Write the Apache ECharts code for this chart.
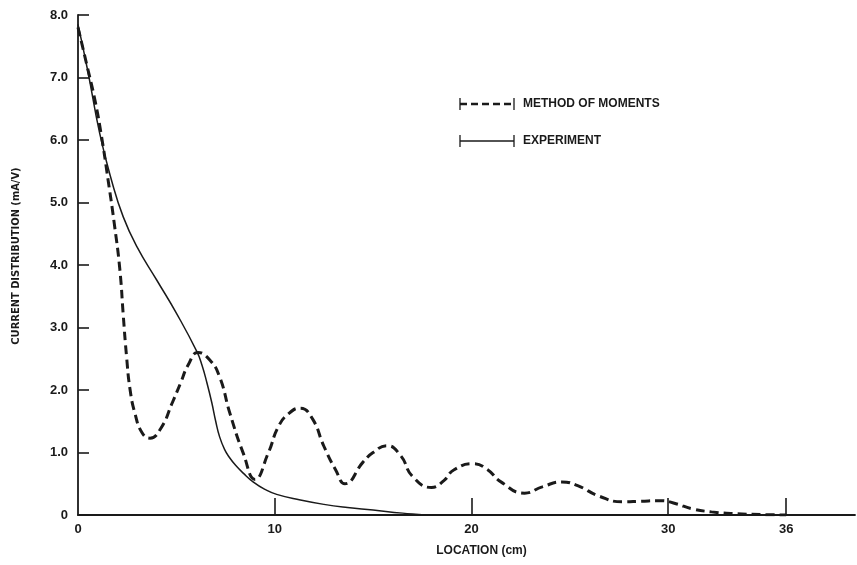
<!DOCTYPE html>
<html>
<head>
<meta charset="utf-8">
<script src="https://cdn.jsdelivr.net/npm/echarts@6/dist/echarts.min.js"></script>
<style>
  html, body { margin: 0; padding: 0; background: #fff; }
  #chart { width: 857px; height: 565px; }
</style>
</head>
<body>
<div id="chart"></div>
<script>
// Current distribution along the strip: method-of-moments solution vs. measurement
const momentsX = [0, 0.45, 0.86, 1.2, 1.53, 1.85, 2.13, 2.3, 2.47, 2.65, 2.9, 3.25, 3.66, 4.2, 4.8, 5.2, 5.6, 6.1, 6.7, 7.2, 7.72, 8.4, 9.0, 9.67, 10.18, 10.7, 11.3, 11.9, 12.5, 13.1, 13.57, 14.5, 15.0, 15.7, 16.4, 17.0, 17.97, 18.6, 19.1, 20.1, 20.8, 21.5, 22.7, 23.6, 24.6, 25.4, 26.5, 27.7, 28.6, 29.6, 30.4, 31.2, 32.2, 33.5, 35.0, 36.0];
const momentsY = [7.8, 7.2, 6.64, 6.05, 5.36, 4.65, 3.92, 3.2, 2.53, 2.0, 1.62, 1.32, 1.23, 1.38, 1.8, 2.1, 2.4, 2.6, 2.48, 2.21, 1.63, 0.99, 0.57, 0.99, 1.41, 1.62, 1.71, 1.55, 1.1, 0.72, 0.5, 0.85, 1.0, 1.11, 0.95, 0.62, 0.44, 0.55, 0.72, 0.82, 0.73, 0.53, 0.35, 0.45, 0.53, 0.47, 0.3, 0.21, 0.22, 0.23, 0.18, 0.1, 0.05, 0.02, 0.005, 0];

const experimentX = [0, 0.5, 1.1, 1.7, 2.3, 3.0, 4.0, 5.0, 6.05, 6.3, 6.55, 6.8, 7.0, 7.2, 7.45, 7.7, 8.0, 8.4, 8.9, 9.5, 10.1, 11.3, 12.5, 13.7, 15.0, 16.5, 18.0, 36.0];
const experimentY = [7.85, 7.1, 6.11, 5.36, 4.77, 4.29, 3.76, 3.23, 2.61, 2.4, 2.12, 1.8, 1.5, 1.25, 1.05, 0.92, 0.8, 0.67, 0.53, 0.41, 0.33, 0.24, 0.17, 0.12, 0.08, 0.03, 0, 0];

const xTickValues = [10, 20, 30, 36];
const xLabelValues = [0, 10, 20, 30, 36];
const yTickLabels = ['0', '1.0', '2.0', '3.0', '4.0', '5.0', '6.0', '7.0', '8.0'];

const seriesNames = ['METHOD OF MOMENTS', 'EXPERIMENT'];
const xAxisTitle = 'LOCATION (cm)';
const yAxisTitle = 'CURRENT DISTRIBUTION (mA/V)';

const ink = '#1a1a1a';
const fontFamily = '"Liberation Sans", Arial, sans-serif';

const zip = (xs, ys) => xs.map((x, i) => [x, ys[i]]);

const chart = echarts.init(document.getElementById('chart'), null, { renderer: 'canvas' });

// legend keys drawn as bracketed line samples
function legendKey(y, dashed, text) {
  return {
    type: 'group',
    children: [
      { type: 'line', shape: { x1: 460, y1: y, x2: 514, y2: y },
        style: { stroke: ink, lineWidth: dashed ? 2.6 : 1.3, lineDash: dashed ? [7, 4] : null } },
      { type: 'line', shape: { x1: 460, y1: y - 6, x2: 460, y2: y + 6 }, style: { stroke: ink, lineWidth: 1.3 } },
      { type: 'line', shape: { x1: 514, y1: y - 6, x2: 514, y2: y + 6 }, style: { stroke: ink, lineWidth: 1.3 } },
      { type: 'text', x: 523, y: y, style: { text: text, textVerticalAlign: 'middle', fill: ink,
          font: 'bold 12px "Liberation Sans", Arial, sans-serif' } }
    ]
  };
}

chart.setOption({
  animation: false,
  backgroundColor: '#ffffff',
  grid: { left: 78, top: 15, right: 2, bottom: 50 },
  xAxis: {
    type: 'value',
    min: 0,
    max: 39.5,
    name: xAxisTitle,
    nameLocation: 'middle',
    nameGap: 30,
    nameTextStyle: { color: ink, fontFamily: fontFamily, fontWeight: 'bold', fontSize: 12, padding: [0, 0, 0, 30] },
    axisLine: { show: true, lineStyle: { color: ink, width: 1.8 } },
    axisTick: { show: true, inside: true, length: 17, customValues: xTickValues, lineStyle: { color: ink, width: 1.6 } },
    axisLabel: { customValues: xLabelValues, margin: 8, fontSize: 13, color: ink, fontFamily: fontFamily, fontWeight: 'bold' },
    splitLine: { show: false }
  },
  yAxis: {
    type: 'value',
    min: 0,
    max: 8,
    interval: 1,
    name: yAxisTitle,
    nameLocation: 'middle',
    nameRotate: 90,
    nameGap: 56,
    nameTextStyle: { color: ink, fontFamily: '"Liberation Sans Narrow", "DejaVu Sans Condensed", sans-serif', fontWeight: 'bold', fontSize: 11, padding: [0, 0, 0, 18] },
    axisLine: { show: true, lineStyle: { color: ink, width: 1.8 } },
    axisTick: { show: true, inside: true, length: 11, lineStyle: { color: ink, width: 1.6 } },
    axisLabel: { margin: 10, fontSize: 13, color: ink, fontFamily: fontFamily, fontWeight: 'bold',
      formatter: (v) => yTickLabels[Math.round(v)] },
    splitLine: { show: false }
  },
  series: [
    {
      name: seriesNames[0],
      type: 'line',
      data: zip(momentsX, momentsY),
      showSymbol: false,
      smooth: 0.5,
      lineStyle: { color: ink, width: 3, type: [9, 5] },
      z: 3
    },
    {
      name: seriesNames[1],
      type: 'line',
      data: zip(experimentX, experimentY),
      showSymbol: false,
      smooth: 0.5,
      lineStyle: { color: ink, width: 1.5 },
      z: 4
    }
  ],
  graphic: [
    legendKey(104, true, seriesNames[0]),
    legendKey(141, false, seriesNames[1])
  ]
});
</script>
</body>
</html>
